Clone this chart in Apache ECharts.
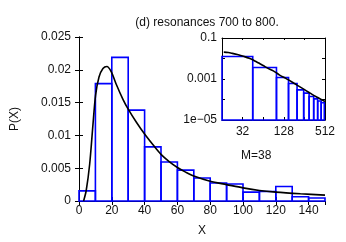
<!DOCTYPE html>
<html>
<head>
<meta charset="utf-8">
<script src="https://cdn.jsdelivr.net/npm/echarts@6/dist/echarts.min.js"></script>
<style>
  html, body { margin: 0; padding: 0; background: #fff; }
  #chart { width: 346px; height: 242px; }
</style>
</head>
<body>
<div id="chart"></div>
<script>
const chart = echarts.init(document.getElementById("chart"));

// main histogram: bins of width 10
const mainEdges = [0, 10, 20, 30, 40, 50, 60, 70, 80, 90, 100, 110, 120, 130, 140, 150];
const mainHist = [0.00155, 0.0179, 0.0219, 0.01385, 0.00825, 0.00595, 0.0047, 0.0035,
                  0.00275, 0.0026, 0.00135, 0.00145, 0.0022, 0.00065, 0.00045];

// fitted curve
const curve = [
    [2.8, 0], [4.4, 0.0016], [6.5, 0.0056], [8.5, 0.0116], [10.1, 0.0161], [12.2, 0.0189],
    [14.6, 0.0202], [17, 0.0205], [19.7, 0.0197], [22.7, 0.0178], [26.8, 0.0155], [30, 0.0140],
    [35, 0.0120], [40, 0.0102], [45, 0.0086], [50, 0.0071], [55, 0.0060], [60, 0.0051],
    [65, 0.0044], [70, 0.0038], [80, 0.0030], [90, 0.0025], [100, 0.0020], [110, 0.0016],
    [120, 0.00135], [135, 0.0011], [150, 0.0009]
];
const curveTail = [[200, 0.0005], [250, 0.00032], [300, 0.00022], [350, 0.00016],
                   [400, 0.000125], [450, 0.0001], [512, 0.00008]];

// inset histogram (log-log)
const insetEdges = [16, 45, 100, 150, 200, 250, 300, 350, 400, 450, 500];
const insetHist = [0.0126, 0.00363, 0.00118, 0.0006, 0.000295, 0.000204, 0.000139,
                   0.000107, 0.000085, 0.00007];

const mainYTicks = [0, 0.025, 0.005];   // min, max, step
const insetXLabels = [32, 128, 512];
const insetYLabels = { "-1": "0.1", "-3": "0.001", "-5": "1e\u221205" };

const font = "Liberation Sans";
const ink = "#111";

function boxes(edges, vals) {
    return vals.map((v, i) => [edges[i], edges[i + 1], v]);
}

function boxRender(base) {
    return function (params, api) {
        const a = api.coord([api.value(0), api.value(2)]);
        const b = api.coord([api.value(1), base]);
        return {
            type: 'rect',
            shape: { x: a[0], y: a[1], width: b[0] - a[0], height: b[1] - a[1] },
            style: { fill: 'none', stroke: '#0000ff', lineWidth: 1.6 }
        };
    };
}

const frame = { show: true, lineStyle: { color: '#000', width: 1 } };
const tick = { show: true, inside: true, length: 4, lineStyle: { color: '#000' } };
const labelStyle = { color: ink, fontFamily: font, fontSize: 12 };

let option = {
    animation: false,
    title: {
        text: '(d) resonances 700 to 800.',
        left: 202,
        top: 12,
        textAlign: 'center',
        textStyle: { color: ink, fontFamily: font, fontSize: 12, fontWeight: 'normal' }
    },
    graphic: [{
        type: 'text',
        left: 241,
        top: 150,
        style: { text: 'M=38', fill: ink, font: '12px "Liberation Sans"' }
    }],
    grid: [
        { left: 79, top: 37, width: 246, height: 167 },
        { left: 222, top: 38, width: 103, height: 82 }
    ],
    xAxis: [
        {
            gridIndex: 0, type: 'value', min: 0, max: 150, interval: 20,
            name: 'X', nameLocation: 'middle', nameGap: 24,
            nameTextStyle: labelStyle,
            axisLine: frame, axisTick: tick, splitLine: { show: false },
            axisLabel: Object.assign({ margin: 4, showMaxLabel: false }, labelStyle)
        },
        {
            gridIndex: 0, type: 'value', position: 'top', min: 0, max: 150, interval: 20,
            axisLine: frame, axisTick: tick, splitLine: { show: false },
            axisLabel: { show: false }
        },
        {
            gridIndex: 1, type: 'log', logBase: 2, min: 16, max: 512,
            axisLine: frame, axisTick: { show: true, inside: true, length: 3, lineStyle: { color: '#000' } },
            splitLine: { show: false },
            axisLabel: Object.assign({
                margin: 6,
                formatter: function (v) {
                    const n = Math.round(v);
                    return insetXLabels.indexOf(n) >= 0 ? String(n) : '';
                }
            }, labelStyle)
        },
        {
            gridIndex: 1, type: 'log', logBase: 2, min: 16, max: 512, position: 'top',
            axisLine: frame, axisTick: { show: true, inside: true, length: 2, lineStyle: { color: '#000' } },
            splitLine: { show: false }, axisLabel: { show: false }
        }
    ],
    yAxis: [
        {
            gridIndex: 0, type: 'value', min: mainYTicks[0], max: mainYTicks[1], interval: mainYTicks[2],
            name: 'P(X)', nameLocation: 'middle', nameGap: 58,
            nameTextStyle: labelStyle,
            axisLine: frame, axisTick: tick, splitLine: { show: false },
            axisLabel: Object.assign({ margin: 8 }, labelStyle)
        },
        {
            gridIndex: 0, type: 'value', position: 'right',
            min: mainYTicks[0], max: mainYTicks[1], interval: mainYTicks[2],
            axisLine: frame, axisTick: tick, splitLine: { show: false },
            axisLabel: { show: false }
        },
        {
            gridIndex: 1, type: 'log', logBase: 10, min: 1e-5, max: 0.1,
            axisLine: frame, axisTick: { show: true, inside: true, length: 3, lineStyle: { color: '#000' } },
            splitLine: { show: false },
            axisLabel: Object.assign({
                margin: 5,
                formatter: function (v) {
                    const e = Math.round(Math.log10(v));
                    return insetYLabels[String(e)] || '';
                }
            }, labelStyle)
        },
        {
            gridIndex: 1, type: 'log', logBase: 10, min: 1e-5, max: 0.1, position: 'right',
            axisLine: frame, axisTick: { show: true, inside: true, length: 3, lineStyle: { color: '#000' } },
            splitLine: { show: false }, axisLabel: { show: false }
        }
    ],
    series: [
        {
            type: 'custom', xAxisIndex: 0, yAxisIndex: 0,
            renderItem: boxRender(0),
            encode: { x: [0, 1], y: 2 },
            data: boxes(mainEdges, mainHist),
            z: 2
        },
        {
            type: 'line', xAxisIndex: 0, yAxisIndex: 0,
            data: curve, symbol: 'none', smooth: 0.3,
            lineStyle: { color: '#000', width: 1.6 },
            z: 3
        },
        {
            type: 'custom', xAxisIndex: 2, yAxisIndex: 2,
            renderItem: boxRender(1e-5),
            encode: { x: [0, 1], y: 2 },
            data: boxes(insetEdges, insetHist),
            z: 2
        },
        {
            type: 'line', xAxisIndex: 2, yAxisIndex: 2,
            data: curve.filter(p => p[0] >= 16).concat(curveTail),
            symbol: 'none', smooth: 0.3,
            lineStyle: { color: '#000', width: 1.6 },
            z: 3
        }
    ]
};

if (option && typeof option === 'object') {
    chart.setOption(option);
}
</script>
</body>
</html>
